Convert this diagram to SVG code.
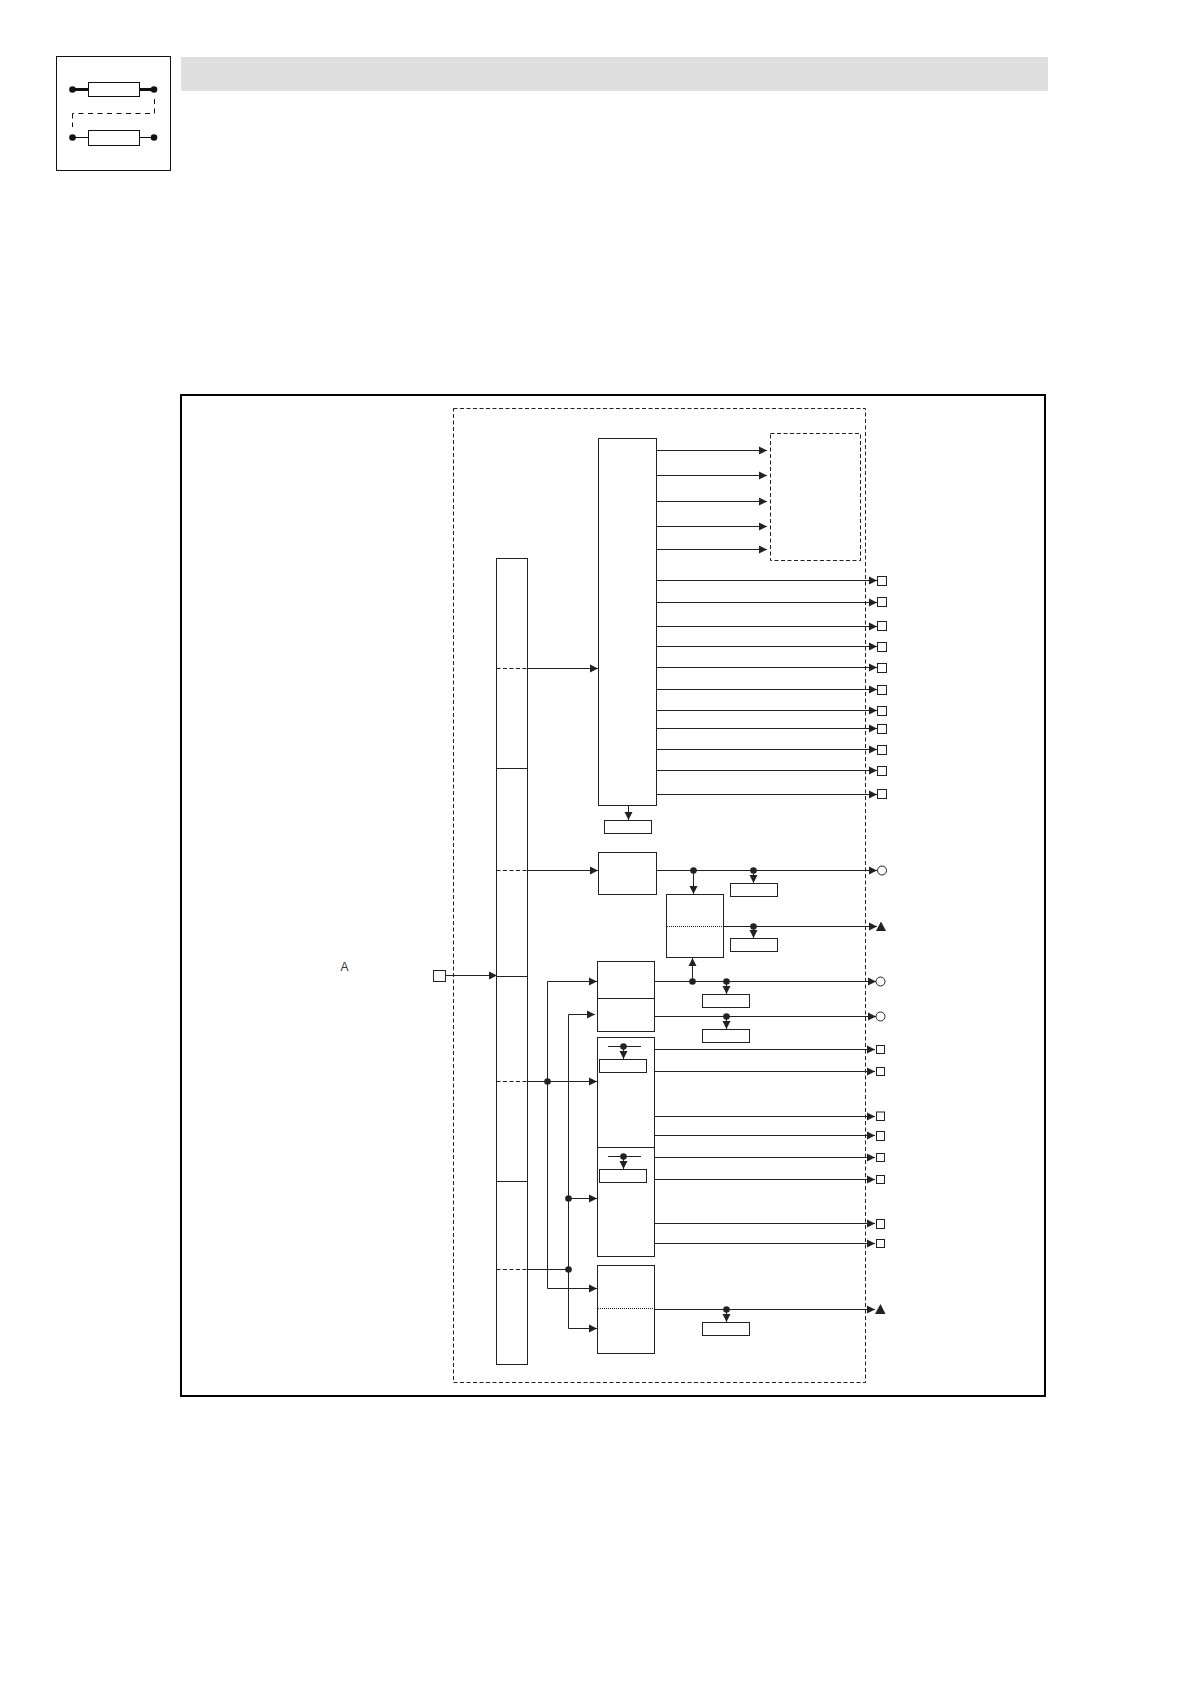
<svg xmlns="http://www.w3.org/2000/svg" width="1190" height="1684" viewBox="0 0 1190 1684">
<style>
.b{fill:#fff;stroke:#222;stroke-width:1}
.c{fill:none;stroke:#222;stroke-width:1}
.a{fill:none;stroke:#222;stroke-width:1;marker-end:url(#ah)}
.d{fill:none;stroke:#222;stroke-width:1;stroke-dasharray:4 2.5}
.p{fill:none;stroke:#222;stroke-width:1;stroke-dasharray:1 1}
.o{fill:#fff;stroke:#222;stroke-width:1}
.k{fill:#222}
text{font-family:"Liberation Sans",Arial,sans-serif;font-size:12px;fill:#333}
</style>
<defs>
<marker id="ah" markerUnits="userSpaceOnUse" markerWidth="9" markerHeight="9" refX="8" refY="4.5" orient="auto"><path d="M0 .5L8 4.5L0 8.5Z" fill="#222"/></marker>
</defs>
<g id="header">
<rect x="181" y="57" width="867" height="34" fill="#dfdfdf"/>
</g>
<g id="icon">
<rect x="56.5" y="56.5" width="114" height="114" fill="#fff" stroke="#111" stroke-width="1"/>
<path d="M72 89.5H88M140 89.5H154" stroke="#111" stroke-width="3" fill="none"/>
<path d="M72.5 137.5H88M140 137.5H154" stroke="#111" stroke-width="1" fill="none"/>
<rect x="88.5" y="82.5" width="51" height="14" fill="#fff" stroke="#111"/>
<rect x="88.5" y="130.5" width="51" height="15" fill="#fff" stroke="#111"/>
<path d="M154.5 99V113.5H72.5" fill="none" stroke="#111" stroke-dasharray="5 4.5"/>
<path d="M72.5 113.5V127" fill="none" stroke="#111" stroke-dasharray="5 4"/>
<circle cx="72.5" cy="89.5" r="3.3" fill="#111"/><circle cx="154" cy="89.5" r="3.3" fill="#111"/>
<circle cx="72.5" cy="137.5" r="3.3" fill="#111"/><circle cx="154" cy="137.5" r="3.3" fill="#111"/>
</g>
<g id="frame">
<rect x="181" y="395" width="864" height="1001" fill="none" stroke="#000" stroke-width="2"/>
<rect x="453.5" y="408.5" width="412" height="974" class="d"/>
</g>
<g id="label-a"><text x="340.5" y="971">A</text></g>
<g id="bus">
<rect x="496.5" y="558.5" width="31" height="806" class="b"/>
<path class="c" d="M496.5 768.5H527.5M496.5 976.5H527.5M496.5 1181.5H527.5"/>
<path class="d" d="M496.5 668.5H527.5M496.5 870.5H527.5M496.5 1081.5H527.5M496.5 1269.5H527.5"/>
</g>
<g id="main-block">
<rect x="598.5" y="438.5" width="58" height="367" class="b"/>
<rect x="604.5" y="820.5" width="47" height="13" class="b"/>
</g>
<g id="dashed-block"><rect x="770.5" y="433.5" width="90" height="127" class="d"/></g>
<g id="block-2"><rect x="598.5" y="852.5" width="58" height="42" class="b"/></g>
<g id="block-3">
<rect x="666.5" y="894.5" width="57" height="63" class="b"/>
<path class="p" d="M667 926.5H723"/>
</g>
<g id="block-4">
<rect x="597.5" y="961.5" width="57" height="70" class="b"/>
<path class="c" d="M597.5 998.5H654.5"/>
</g>
<g id="block-5">
<rect x="597.5" y="1037.5" width="57" height="110" class="b"/>
<rect x="599.5" y="1059.5" width="47" height="13" class="b"/>
<path class="c" d="M608 1046.5H641"/>
</g>
<g id="block-5b">
<rect x="597.5" y="1147.5" width="57" height="109" class="b"/>
<rect x="599.5" y="1169.5" width="47" height="13" class="b"/>
<path class="c" d="M608 1156.5H641"/>
</g>
<g id="block-6">
<rect x="597.5" y="1265.5" width="57" height="88" class="b"/>
<path class="p" d="M598 1308.5H654"/>
</g>
<g id="tag-boxes">
<rect x="730.5" y="883.5" width="47" height="13" class="b"/>
<rect x="730.5" y="938.5" width="47" height="13" class="b"/>
<rect x="702.5" y="994.5" width="47" height="13" class="b"/>
<rect x="702.5" y="1029.5" width="47" height="13" class="b"/>
<rect x="702.5" y="1322.5" width="47" height="13" class="b"/>
</g>
<g id="connectors">
<path class="a" d="M656.5 450.5H767"/><path class="a" d="M656.5 475.5H767"/><path class="a" d="M656.5 501.5H767"/><path class="a" d="M656.5 526.5H767"/><path class="a" d="M656.5 549.5H767"/>
<path class="a" d="M656.5 580.5H877"/><path class="a" d="M656.5 602.5H877"/><path class="a" d="M656.5 626.5H877"/><path class="a" d="M656.5 646.5H877"/><path class="a" d="M656.5 667.5H877"/><path class="a" d="M656.5 689.5H877"/><path class="a" d="M656.5 710.5H877"/><path class="a" d="M656.5 728.5H877"/><path class="a" d="M656.5 749.5H877"/><path class="a" d="M656.5 770.5H877"/><path class="a" d="M656.5 794.5H877"/>
<path class="a" d="M527.5 668.5H598"/><path class="a" d="M628.5 805.5V820"/>
<path class="a" d="M527.5 870.5H598"/><path class="a" d="M656.5 870.5H877"/>
<path class="a" d="M693.5 870.5V894"/><path class="a" d="M753.5 870.5V883"/>
<path class="a" d="M723.5 926.5H877"/><path class="a" d="M753.5 926.5V938"/>
<path class="a" d="M654.5 981.5H876"/><path class="a" d="M692.5 981.5V958"/><path class="a" d="M726.5 981.5V994"/>
<path class="a" d="M654.5 1016.5H876"/><path class="a" d="M726.5 1016.5V1029"/>
<path class="a" d="M623.5 1046.5V1059"/><path class="a" d="M623.5 1156.5V1169"/>
<path class="a" d="M654.5 1049.5H875"/><path class="a" d="M654.5 1071.5H875"/><path class="a" d="M654.5 1116.5H875"/><path class="a" d="M654.5 1135.5H875"/><path class="a" d="M654.5 1157.5H875"/><path class="a" d="M654.5 1179.5H875"/><path class="a" d="M654.5 1223.5H875"/><path class="a" d="M654.5 1243.5H875"/>
<path class="a" d="M654.5 1309.5H875"/><path class="a" d="M726.5 1309.5V1322"/>
<path class="a" d="M445.5 975.5H497"/>
<path class="a" d="M547.5 1288.5V981.5H597"/>
<path class="a" d="M547.5 1288.5H597"/>
<path class="a" d="M568.5 1328.5V1014.5H595"/>
<path class="a" d="M568.5 1328.5H597"/>
<path class="a" d="M527.5 1081.5H597"/>
<path class="a" d="M568.5 1198.5H597"/>
<path class="c" d="M527.5 1269.5H568.5"/>
</g>
<g id="junctions" class="k">
<circle cx="693.5" cy="870.5" r="3.3"/><circle cx="753.5" cy="870.5" r="3.3"/><circle cx="753.5" cy="926.5" r="3.3"/><circle cx="692.5" cy="981.5" r="3.3"/><circle cx="726.5" cy="981.5" r="3.3"/><circle cx="726.5" cy="1016.5" r="3.3"/><circle cx="623.5" cy="1046.5" r="3.3"/><circle cx="623.5" cy="1156.5" r="3.3"/><circle cx="726.5" cy="1309.5" r="3.3"/><circle cx="547.5" cy="1081.5" r="3.3"/><circle cx="568.5" cy="1198.5" r="3.3"/><circle cx="568.5" cy="1269.5" r="3.3"/>
</g>
<g id="terminals">
<rect x="433.5" y="970.5" width="12" height="11" class="o"/>
<rect x="877.5" y="576.5" width="9" height="9" class="o"/><rect x="877.5" y="597.5" width="9" height="9" class="o"/><rect x="877.5" y="621.5" width="9" height="9" class="o"/><rect x="877.5" y="642.5" width="9" height="9" class="o"/><rect x="877.5" y="663.5" width="9" height="9" class="o"/><rect x="877.5" y="685.5" width="9" height="9" class="o"/><rect x="877.5" y="706.5" width="9" height="9" class="o"/><rect x="877.5" y="724.5" width="9" height="9" class="o"/><rect x="877.5" y="745.5" width="9" height="9" class="o"/><rect x="877.5" y="766.5" width="9" height="9" class="o"/><rect x="877.5" y="789.5" width="9" height="9" class="o"/>
<circle cx="882" cy="870.5" r="4.5" class="o"/>
<path d="M876 931L881 921.5L886 931Z" fill="#222"/>
<circle cx="880.5" cy="981.5" r="4.5" class="o"/><circle cx="880.5" cy="1016.5" r="4.5" class="o"/>
<rect x="876.5" y="1045.5" width="8" height="8" class="o"/><rect x="876.5" y="1067.5" width="8" height="8" class="o"/><rect x="876.5" y="1112" width="8" height="8.5" class="o"/><rect x="876.5" y="1131.5" width="8" height="9" class="o"/><rect x="876.5" y="1153.5" width="8" height="8" class="o"/><rect x="876.5" y="1175.5" width="8" height="8" class="o"/><rect x="876.5" y="1219.5" width="8" height="9" class="o"/><rect x="876.5" y="1239.5" width="8" height="8" class="o"/>
<path d="M875 1314L880.5 1304L885.5 1314Z" fill="#222"/>
</g>
</svg>
